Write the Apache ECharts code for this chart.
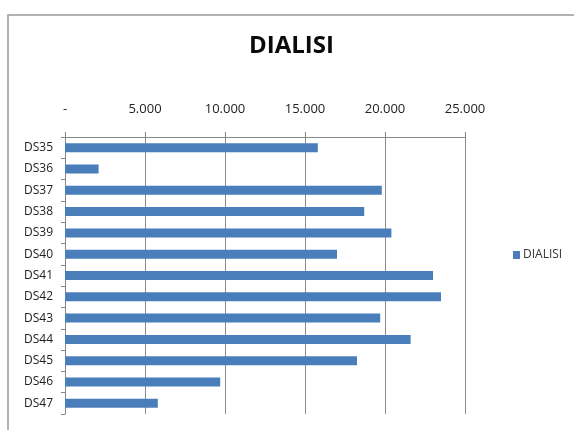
<!DOCTYPE html>
<html>
<head>
<meta charset="utf-8">
<script src="https://cdn.jsdelivr.net/npm/echarts@6/dist/echarts.min.js"></script>
<style>
  html, body { margin: 0; padding: 0; background: #fff; }
  #chart { width: 574px; height: 430px; }
</style>
</head>
<body>
<div id="chart"></div>
<script>
// dati
var categories = ['DS35', 'DS36', 'DS37', 'DS38', 'DS39', 'DS40', 'DS41', 'DS42', 'DS43', 'DS44', 'DS45', 'DS46', 'DS47'];
var dialisi = [15800, 2100, 19800, 18700, 20400, 17000, 23000, 23500, 19700, 21600, 18250, 9700, 5800];
var tickValues = [0, 5000, 10000, 15000, 20000, 25000];

var font = '"Open Sans", sans-serif';

function fmt(v) {
    if (v === 0) return '-';
    return String(v).replace(/\B(?=(\d{3})+(?!\d))/g, '.');
}

var chart = echarts.init(document.getElementById('chart'));

var option = {
    backgroundColor: '#fff',
    animation: false,
    title: {
        text: 'DIALISI',
        left: 249,
        top: 34,
        padding: 0,
        textStyle: { fontFamily: font, fontSize: 24, fontWeight: 'bold', color: '#0a0a0a' }
    },
    legend: {
        orient: 'vertical',
        left: 508,
        top: 244,
        icon: 'rect',
        itemWidth: 7,
        itemHeight: 8,
        itemGap: 4,
        data: ['DIALISI'],
        textStyle: { fontFamily: font, fontSize: 12, color: '#333', padding: [0, 0, 0, -2] }
    },
    graphic: [{
        type: 'polyline',
        shape: { points: [[8, 430], [8, 15], [580, 15]] },
        style: { stroke: '#999', lineWidth: 1.5, fill: null }
    }],
    grid: { left: 65, right: 109, top: 137, bottom: 16 },
    xAxis: {
        type: 'value',
        position: 'top',
        min: tickValues[0],
        max: tickValues[tickValues.length - 1],
        interval: 5000,
        axisLine: { show: true, lineStyle: { color: '#888' } },
        axisTick: { show: true, length: 5, lineStyle: { color: '#888' } },
        axisLabel: {
            margin: 21,
            fontFamily: font,
            fontSize: 13,
            color: '#222',
            formatter: fmt
        },
        splitLine: { show: true, lineStyle: { color: '#8c8c8c', width: 1 } }
    },
    yAxis: {
        type: 'category',
        inverse: true,
        data: categories,
        axisLine: { show: true, lineStyle: { color: '#888' } },
        axisTick: { show: true, length: 4, lineStyle: { color: '#888' } },
        axisLabel: { margin: 12, fontFamily: font, fontSize: 12, color: '#222' }
    },
    series: [{
        name: 'DIALISI',
        type: 'bar',
        data: dialisi,
        barWidth: 9,
        itemStyle: { color: '#4a7ebb' }
    }]
};

chart.setOption(option);
</script>
</body>
</html>
